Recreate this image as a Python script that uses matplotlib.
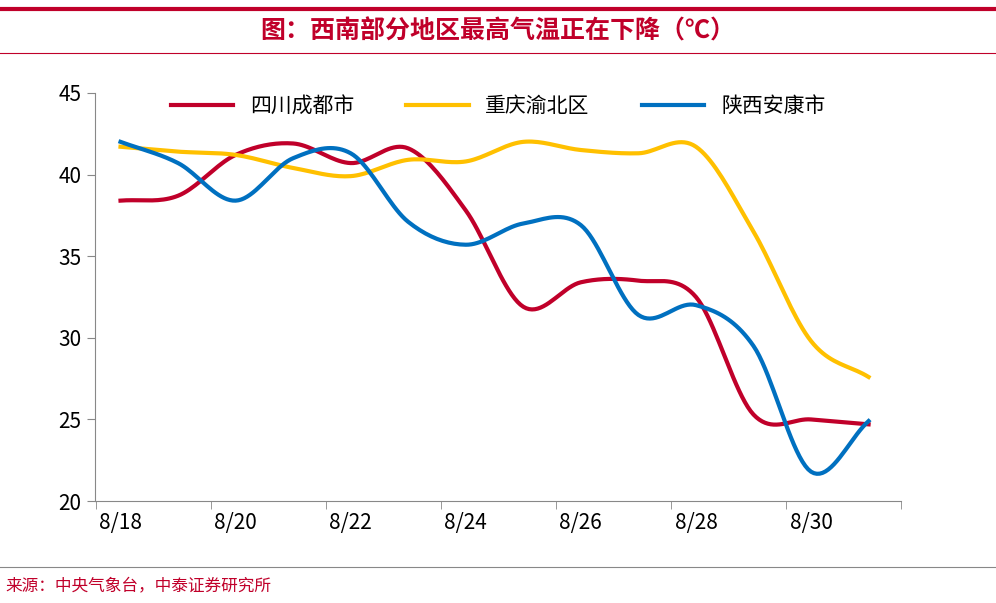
import matplotlib
matplotlib.use("Agg")
import matplotlib.pyplot as plt
import numpy as np

plt.rcParams['font.family'] = ['Noto Sans CJK SC', 'DejaVu Sans']

dates = ['8/18','8/19','8/20','8/21','8/22','8/23','8/24','8/25','8/26','8/27','8/28','8/29','8/30','8/31']
chengdu = [38.4,38.7,41.2,41.9,40.7,41.6,37.8,31.9,33.4,33.5,32.5,25.3,25.0,24.7]
chongqing = [41.7,41.4,41.2,40.4,39.9,40.9,40.8,42.0,41.5,41.3,41.7,36.5,29.8,27.6]
ankang = [42.0,40.7,38.4,41.0,41.3,37.1,35.7,37.0,36.9,31.4,32.0,29.5,21.8,24.9]
names = ['四川成都市','重庆渝北区','陕西安康市']
colors = ['#C0002A','#FFC000','#0070C0']

def smooth(y, n=20):
    y = np.asarray(y, float); x = np.arange(len(y))
    m = np.gradient(y)
    xs, ys = [], []
    for i in range(len(y)-1):
        t = np.linspace(0,1,n,endpoint=False)
        h00=2*t**3-3*t**2+1; h10=t**3-2*t**2+t; h01=-2*t**3+3*t**2; h11=t**3-t**2
        xs.append(x[i]+t); ys.append(h00*y[i]+h10*m[i]+h01*y[i+1]+h11*m[i+1])
    xs.append([x[-1]]); ys.append([y[-1]])
    return np.concatenate(xs), np.concatenate(ys)

fig = plt.figure(figsize=(9.96,6.03), dpi=100)
ax = fig.add_axes([0.095, 0.169, 0.81, 0.677])
for d,nm,c in zip([chengdu,chongqing,ankang],names,colors):
    xs,ys = smooth(d)
    ax.plot(xs,ys,color=c,lw=3,label=nm)
ax.set_xlim(-0.45,13.5)
ax.set_ylim(20,45)
ax.set_yticks([20,25,30,35,40,45])
ax.set_xticks(range(0,14,2))
ax.set_xticklabels(dates[::2])
ax.set_xticks([2*k-0.43 for k in range(8)], minor=True)
ax.tick_params(axis='x', which='major', length=0, pad=8, labelsize=15)
ax.tick_params(axis='x', which='minor', length=6, color='#888')
ax.tick_params(axis='y', labelsize=15, length=6, color='#888')
for s in ['top','right']:
    ax.spines[s].set_visible(False)
for s in ['left','bottom']:
    ax.spines[s].set_color('#888')
ax.legend(loc='upper center', ncol=3, frameon=False, fontsize=15, bbox_to_anchor=(0.5,1.04), handlelength=3, columnspacing=2.5)

fig.add_artist(plt.Line2D([0.0,1.0],[0.985,0.985],color='#C0002A',lw=3))
fig.add_artist(plt.Line2D([0.0,1.0],[0.912,0.912],color='#C0002A',lw=0.8))
fig.text(0.5,0.948,'图：西南部分地区最高气温正在下降（℃）',ha='center',va='center',color='#C0002A',fontsize=18,fontweight='bold')
fig.add_artist(plt.Line2D([0.0,1.0],[0.06,0.06],color='#888',lw=0.8))
fig.text(0.005,0.028,'来源：中央气象台，中泰证券研究所',ha='left',va='center',color='#C0002A',fontsize=12)
fig.savefig('out.png')
